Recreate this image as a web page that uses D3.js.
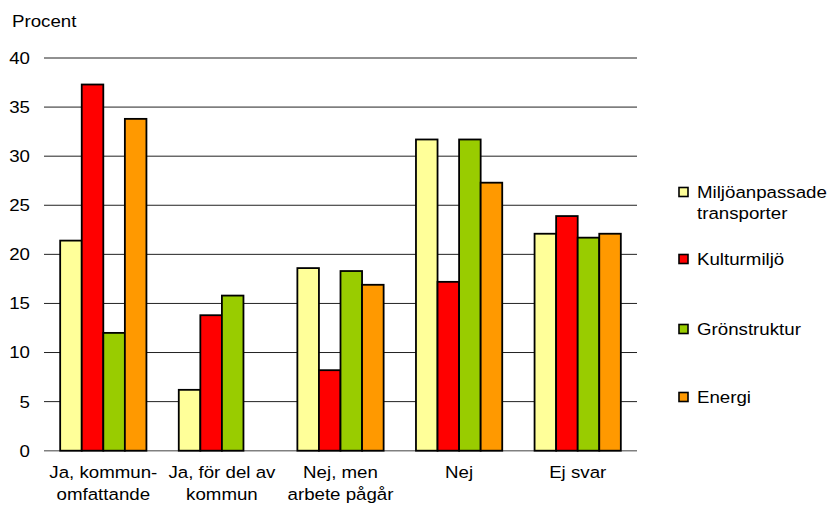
<!DOCTYPE html>
<html>
<head>
<meta charset="utf-8">
<script src="https://cdn.jsdelivr.net/npm/d3@7"></script>
<style>
  html, body { margin: 0; padding: 0; background: #fff; }
  svg { display: block; font-family: "Liberation Sans", Arial, sans-serif; }
</style>
</head>
<body>
<svg id="chart" width="828" height="510"></svg>
<script>
// Categories (x-axis, each may wrap to two lines)
const categories = [
  ["Ja, kommun-", "omfattande"],
  ["Ja, för del av", "kommun"],
  ["Nej, men", "arbete pågår"],
  ["Nej"],
  ["Ej svar"]
];
const seriesNames = [["Miljöanpassade", "transporter"], ["Kulturmiljö"], ["Grönstruktur"], ["Energi"]];
const seriesColors = ["#FFFF99", "#FF0000", "#99CC00", "#FF9900"];

// Percent per series, one value per category
const miljoanpassade = [21.4, 6.2, 18.6, 31.7, 22.1];
const kulturmiljo    = [37.3, 13.8, 8.2, 17.2, 23.9];
const gronstruktur   = [12.0, 15.8, 18.3, 31.7, 21.7];
const energi         = [33.8, 0, 16.9, 27.3, 22.1];
const seriesValues = [miljoanpassade, kulturmiljo, gronstruktur, energi];

const yTicks = [0, 5, 10, 15, 20, 25, 30, 35, 40];

// Text is set slightly wide
const FONT = 17;
const STRETCH = 1.1;
const place = (tx, ty) => `translate(${tx},${ty}) scale(${STRETCH},1)`;

const svg = d3.select("#chart");
const margin = { left: 44, right: 637, top: 58, bottom: 450.7 };

const x = d3.scaleBand()
  .domain(d3.range(categories.length))
  .range([margin.left, margin.right])
  .paddingInner(0.2727)
  .paddingOuter(0.1364);

const xInner = d3.scaleBand()
  .domain(d3.range(seriesValues.length))
  .range([0, x.bandwidth()]);

const y = d3.scaleLinear().domain([0, 40]).range([margin.bottom, margin.top]);

// Gridlines
svg.append("g")
  .selectAll("line")
  .data(yTicks)
  .join("line")
  .attr("x1", margin.left)
  .attr("x2", margin.right)
  .attr("y1", d => y(d))
  .attr("y2", d => y(d))
  .attr("stroke", d => d === 0 ? "#808080" : "#222")
  .attr("stroke-width", d => d === 0 ? 1.5 : 1);

// Y tick labels
svg.append("g")
  .selectAll("text")
  .data(yTicks)
  .join("text")
  .attr("transform", d => place(30, y(d)))
  .attr("dy", "0.35em")
  .attr("text-anchor", "end")
  .attr("font-size", FONT)
  .attr("fill", "#000")
  .text(d => d);

svg.append("text")
  .attr("transform", place(12, 27))
  .attr("font-size", FONT)
  .text("Procent");

// Bars
const groups = svg.append("g")
  .selectAll("g")
  .data(categories.map((c, i) => i))
  .join("g")
  .attr("transform", i => `translate(${x(i)},0)`);

groups.selectAll("rect")
  .data(i => seriesValues.map((vals, s) => ({ s, v: vals[i] })).filter(d => d.v > 0))
  .join("rect")
  .attr("x", d => xInner(d.s))
  .attr("width", xInner.bandwidth())
  .attr("y", d => y(d.v))
  .attr("height", d => y(0) - y(d.v))
  .attr("fill", d => seriesColors[d.s])
  .attr("stroke", "#000")
  .attr("stroke-width", 1.8);

// Category labels
svg.append("g")
  .selectAll("text")
  .data(categories)
  .join("text")
  .attr("transform", (c, i) => place(x(i) + x.bandwidth() / 2, 478))
  .attr("text-anchor", "middle")
  .attr("font-size", FONT)
  .each(function(lines) {
    d3.select(this).selectAll("tspan")
      .data(lines)
      .join("tspan")
      .attr("x", 0)
      .attr("dy", (d, k) => k === 0 ? 0 : 22)
      .text(d => d);
  });

// Legend
const legendY = [192, 259, 329, 397];
const legend = svg.append("g")
  .selectAll("g")
  .data(seriesNames)
  .join("g")
  .attr("transform", (d, i) => `translate(679,${legendY[i]})`);

legend.append("rect")
  .attr("x", 0)
  .attr("y", -4.5)
  .attr("width", 9)
  .attr("height", 9)
  .attr("fill", (d, i) => seriesColors[i])
  .attr("stroke", "#000")
  .attr("stroke-width", 1.6);

legend.append("text")
  .attr("transform", place(18, 0))
  .attr("font-size", FONT)
  .each(function(lines) {
    d3.select(this).selectAll("tspan")
      .data(lines)
      .join("tspan")
      .attr("x", 0)
      .attr("dy", (d, k) => k === 0 ? "0.35em" : 21)
      .text(d => d);
  });
</script>
</body>
</html>
